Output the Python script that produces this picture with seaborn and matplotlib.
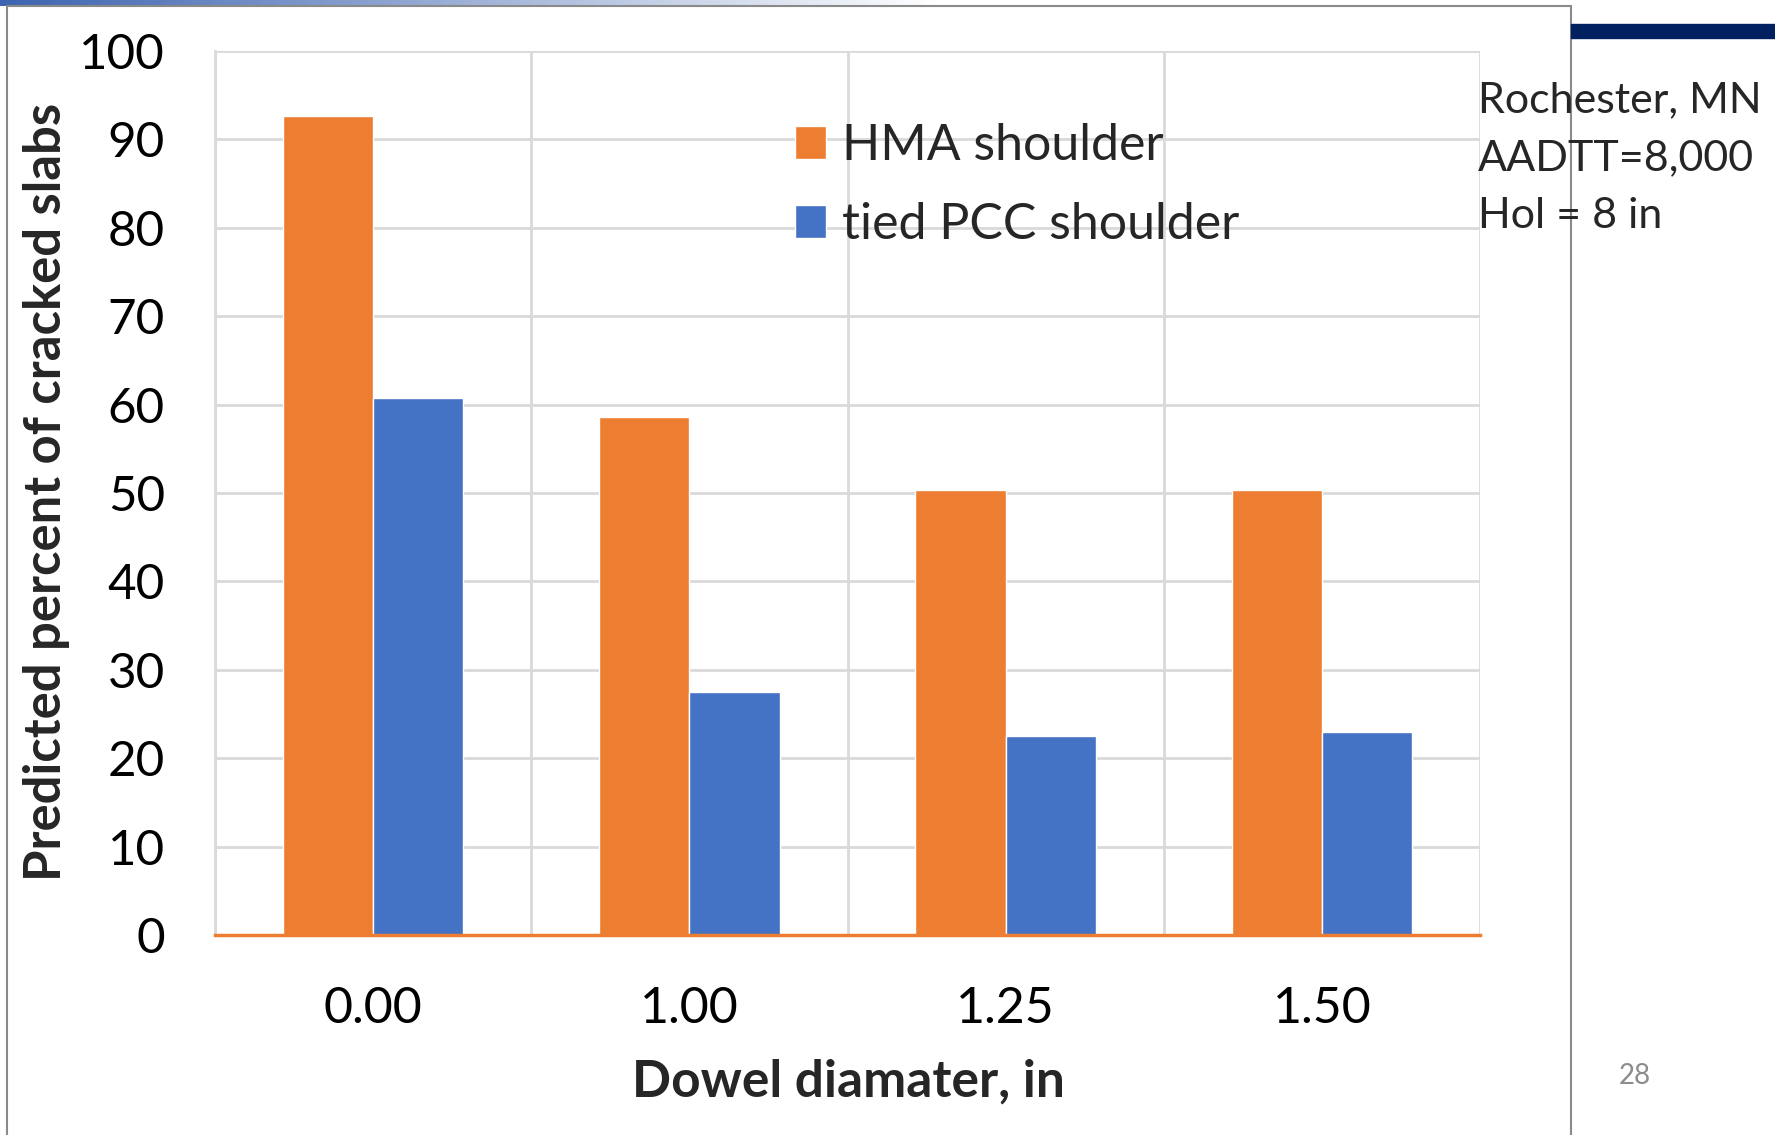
# plot.py - dowel diameter vs predicted cracking
import numpy as np
import pandas as pd
import matplotlib
matplotlib.use("Agg")
import matplotlib.pyplot as plt
from matplotlib.patches import Rectangle
from matplotlib.lines import Line2D
import seaborn as sns

# data
dowel_labels = ["0.00", "1.00", "1.25", "1.50"]
hma_shoulder = [92.6, 58.6, 50.3, 50.3]
tied_pcc_shoulder = [60.8, 27.5, 22.5, 23.0]
series_names = ["HMA shoulder", "tied PCC shoulder"]
y_ticks = list(range(0, 101, 10))
note_lines = ["Rochester, MN", "AADTT=8,000", "Hol = 8 in"]

ORANGE = "#ED7D31"
BLUE = "#4472C4"
GRID = "#d9d9d9"

W, H = 1775, 1135

sns.set_theme(style="white")
plt.rcParams["font.family"] = ["Lato", "DejaVu Sans"]

df = pd.DataFrame({
    "dowel": dowel_labels * 2,
    "value": hma_shoulder + tied_pcc_shoulder,
    "series": [series_names[0]] * 4 + [series_names[1]] * 4,
})

fig = plt.figure(figsize=(W / 100, H / 100), dpi=100)
ax = fig.add_axes([215 / W, 1 - 935 / H, (1480 - 215) / W, (935 - 51) / H])

sns.barplot(data=df, x="dowel", y="value", hue="series", order=dowel_labels,
            hue_order=series_names, palette=[ORANGE, BLUE], width=0.57,
            gap=0, saturation=1, ax=ax, legend=True)

ax.set_xlim(-0.5, len(dowel_labels) - 0.5)
ax.set_ylim(0, 100)
ax.set_yticks(y_ticks)
ax.set_yticklabels([str(t) for t in y_ticks])
ax.set_xticks(np.arange(-0.5, len(dowel_labels)), minor=True)
ax.grid(axis="y", which="major", color=GRID, linewidth=2)
ax.grid(axis="x", which="minor", color=GRID, linewidth=2)
ax.set_axisbelow(True)
ax.tick_params(axis="both", which="both", length=0)
ax.tick_params(axis="y", labelsize=35.5, pad=36, labelcolor="black")
ax.tick_params(axis="x", labelsize=36, pad=37, labelcolor="black")

for side in ["top", "right"]:
    ax.spines[side].set_visible(False)
ax.spines["left"].set_color(GRID)
ax.spines["left"].set_linewidth(2)
ax.spines["bottom"].set_color(ORANGE)
ax.spines["bottom"].set_linewidth(2.5)

ax.set_xlabel("")
ax.set_ylabel("")
fig.text(848 / W, 1 - 1082 / H, "Dowel diamater, in", fontsize=37,
         fontweight="bold", ha="center", va="center")
fig.text(47 / W, 1 - 492 / H, "Predicted percent of cracked slabs",
         fontsize=36.5, fontweight="bold", rotation=90, ha="center", va="center")

handles, labels = ax.get_legend_handles_labels()
ax.legend(handles, labels, loc="upper left",
          bbox_to_anchor=(775 / W, 1 - 103 / H), bbox_transform=fig.transFigure,
          frameon=False, fontsize=36, handlelength=0.62, handleheight=0.62,
          handletextpad=0.32, labelspacing=0.66, borderaxespad=0)

# side note
for i, line in enumerate(note_lines):
    fig.text(1478 / W, 1 - (112 + 58 * i) / H, line, fontsize=31,
             ha="left", va="baseline")

# slide decorations
fig.text(1635 / W, 1 - 1076 / H, "28", fontsize=20, color="#8c8c8c",
         ha="center", va="center")
fig.patches.append(Rectangle((1571 / W, 1 - 38 / H), (W - 1571) / W, 14 / H,
                             transform=fig.transFigure, color="#002060", zorder=5))
grad_ax = fig.add_axes([0, 1 - 6 / H, 940 / W, 6 / H])
grad = np.linspace(0, 1, 256)[None, :]
cmap = matplotlib.colors.LinearSegmentedColormap.from_list("g", ["#3d64b0", "#ffffff"])
grad_ax.imshow(grad, aspect="auto", cmap=cmap)
grad_ax.axis("off")
border = "#8a8a8a"
fig.lines.append(Line2D([7 / W, 7 / W], [0, 1 - 6 / H], transform=fig.transFigure,
                        color=border, linewidth=1.5))
fig.lines.append(Line2D([7 / W, 1571 / W], [1 - 6 / H, 1 - 6 / H],
                        transform=fig.transFigure, color=border, linewidth=1.5))
fig.lines.append(Line2D([1571 / W, 1571 / W], [0, 1 - 6 / H], transform=fig.transFigure,
                        color=border, linewidth=1.5))

fig.savefig("out.png", dpi=100)
